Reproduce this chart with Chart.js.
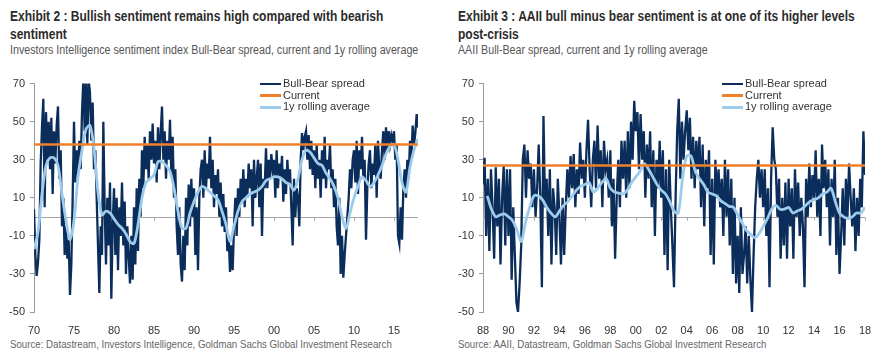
<!DOCTYPE html>
<html>
<head>
<meta charset="utf-8">
<script src="https://cdn.jsdelivr.net/npm/chart.js@4.4.1/dist/chart.umd.min.js"></script>
<style>
  body { margin: 0; background: #fff; width: 890px; height: 360px; overflow: hidden; position: relative; font-family: "Liberation Sans", Arial, sans-serif; }
  .fit { transform-origin: 0 0; }
  .t { position: absolute; top: 7px; font-weight: bold; font-size: 14.5px; line-height: 18px; color: #2b2b2b; white-space: nowrap; }
  .s { position: absolute; top: 43px; font-size: 12.5px; color: #555; white-space: nowrap; }
  .src { position: absolute; top: 338px; font-size: 10.5px; color: #666; white-space: nowrap; }
  .box { position: absolute; top: 72px; height: 265px; }
  .lg { position: absolute; top: 78px; font-size: 11px; color: #333; }
  .lg div { height: 11.5px; line-height: 11.5px; white-space: nowrap; }
  .lg i { display: inline-block; width: 21px; vertical-align: middle; margin-right: 2px; }
</style>
</head>
<body>

<div class="t fit" data-w="373" style="left:10px">Exhibit 2 : Bullish sentiment remains high compared with bearish<br>sentiment</div>
<div class="s fit" data-w="408" style="left:10px">Investors Intelligence sentiment index Bull-Bear spread, current and 1y rolling average</div>
<div class="box" style="left:0;width:440px"><canvas id="left"></canvas></div>
<div class="lg" style="left:260px">
  <div><i style="border-top:2px solid #0b2d5b"></i>Bull-Bear spread</div>
  <div><i style="border-top:3px solid #f07f2b"></i>Current</div>
  <div><i style="border-top:3px solid #9dcbeb"></i>1y rolling average</div>
</div>
<div class="src fit" data-w="382" style="left:10px">Source: Datastream, Investors Intelligence, Goldman Sachs Global Investment Research</div>

<div class="t fit" data-w="397" style="left:458px">Exhibit 3 : AAII bull minus bear sentiment is at one of its higher levels<br>post-crisis</div>
<div class="s fit" data-w="250" style="left:458px">AAII Bull-Bear spread, current and 1y rolling average</div>
<div class="box" style="left:449px;width:441px"><canvas id="right"></canvas></div>
<div class="lg" style="left:722px">
  <div><i style="border-top:2px solid #0b2d5b"></i>Bull-Bear spread</div>
  <div><i style="border-top:3px solid #f07f2b"></i>Current</div>
  <div><i style="border-top:3px solid #9dcbeb"></i>1y rolling average</div>
</div>
<div class="src fit" data-w="308" style="left:458px">Source: AAII, Datastream, Goldman Sachs Global Investment Research</div>

<script>
// Investors Intelligence bull-bear spread, 6 readings per year from 1970
const iiStart = 1970;
const iiPerYear = 6;
const iiSpread = [
  4, -20, -31, -24, -12, 28,
  47, 62, 5, 55, 30, 50,
  25, 52, 12, 45, 28, 48,
  58, 20, 35, -5, 10, -20,
  -5, -22, -12, -41, -25, 10,
  50, 18, 35, 22, 40, 25,
  55, 72, 45, 72, 38, 72,
  65, 40, 60, 25, 35, 10,
  -15, -40, -5, -20, 50, 5,
  -25, 10, -15, 18, -43, -5,
  15, -20, 10, -28, 5, -10,
  18, -15, 8, -30, -5, -20,
  -35, -10, -33, 5, -25, 15,
  -18, 20, 0, 35, 15, 42,
  25, 38, 20, 45, 30, 49,
  28, 40, 18, 47, 25, 44,
  58, 30, 45, 20, 40, 30,
  51, 22, 42, 10, 25, -5,
  -20, 5, -25, -34, -10, -28,
  10, -15, 17, -5, 20, 0,
  15, -20, 5, -28, 10, 25,
  30, 10, 35, 15, 28, 20,
  42, 15, 30, 5, 22, 12,
  25, 0, 18, -5, 12, -8,
  5, -18, -10, -29, -15, -28,
  -5, 10, -10, 15, 0, 20,
  8, 25, 5, 20, 10, 28,
  15, 25, -5, 30, 10, 20,
  30, 5, 28, -10, 20, 15,
  36, 15, 30, 20, 33, 25,
  30, 10, 35, 15, 28, 20,
  32, 8, 25, 12, 30, 18,
  25, 5, -15, 20, 0, 15,
  10, -5, 30, 44, 35, 42,
  45, 30, 43, 25, 40, 22,
  35, 15, 38, 20, 30, 10,
  35, 20, 42, 15, 30, 25,
  38, 15, 25, 5, 20, -5,
  -15, 10, -30, -10, -32, -20,
  -10, 0, 10, 25, 15, 30,
  35, 18, 40, 12, 35, 25,
  42, 20, 30, -12, 15, 28,
  35, 15, 28, 22, 38, 10,
  40, 25, 20, 35, 45, 30,
  47, 35, 45, 38, 43, 40,
  45, 30, 38, -10, -14, 5,
  -12, 15, 25, 10, 30, 20,
  40, 30, 48, 38, 44, 54,
  47
];
// 1y rolling average, 2 readings per year
const iiAvgPerYear = 2;
const iiAvg = [
  -17, -8, 12, 27, 31, 31, 27, 12, -2, -12,
  -2, 21, 35, 46, 48, 36, 13, 1, 3, 2,
  -1, -4, -6, -9, -13, -14, -4, 10, 18, 20,
  22, 29, 29, 27, 24, 15, 3, -6, -6, 2,
  8, 13, 16, 15, 13, 11, 9, 3, -4, -13,
  -5, 3, 8, 10, 12, 13, 14, 16, 19, 20,
  21, 21, 20, 18, 17, 14, 20, 30, 35, 34,
  31, 28, 27, 23, 20, 16, 10, 0, -6, 2,
  10, 16, 21, 19, 16, 18, 22, 27, 33, 37,
  38, 30, 18, 13, 26, 35, 41
];
const iiCurrent = 38;
const iiYearTicks = [1970, 1975, 1980, 1985, 1990, 1995, 2000, 2005, 2010, 2015];

// AAII bull-bear spread, 8 readings per year from 1988
const aaiiStart = 1988;
const aaiiPerYear = 8;
const aaiiSpread = [
  17, 31, -10, 20, -18, 25, 5, -22,
  26, -5, 20, -25, 10, 27, -15, 25,
  -10, 25, -33, 5, -20, -45, -50, -35,
  -15, 30, 38, 10, 35, 20, 28, 5,
  25, 0, 15, 38, 10, -37, 53, 5,
  20, -10, 25, -25, 15, 5, -20, 20,
  0, -25, 10, -20, 5, 25, 10, 32,
  15, 33, 5, 25, 12, 39, 20, 30,
  10, 35, 51, 25, 5, 30, 40, 15,
  48, 20, 35, 5, 40, 25, 30, 10,
  35, -5, 20, -22, 10, 30, 5, 40,
  20, 40, 10, 45, 15, 50, 30, 61,
  45, 55, 25, 54, 30, 45, 10, 38,
  20, 45, 5, 35, -10, 30, 15, 40,
  10, 35, -20, 25, -28, 30, 5, -15,
  -37, 10, 45, 62, 20, 50, 30, 45,
  56, 35, 52, 20, 42, 15, 40, 25,
  42, 5, 38, -5, 30, 15, 35, -20,
  20, -25, 30, 10, 25, 5, 20, -10,
  30, 0, 25, -15, 20, -30, 10, -35,
  -10, -40, 5, -30, -20, -5, -35, -10,
  -33, -50, -20, 5, 20, 30, 10, 25,
  5, 25, -10, 15, -37, 20, 47, 30,
  25, 0, 20, -22, 10, -15, 18, -22,
  20, -5, 15, -22, 25, 0, 18, -10,
  10, -5, -37, 20, 0, 28, 5, 22,
  10, 35, 0, 20, -10, 38, 15, 30,
  5, 25, -15, 20, 0, 30, -20, 10,
  -30, -10, 15, -15, 20, 0, 28, 10,
  -5, 15, -18, 10, -10, 20, 5, 45,
  22
];
// 1y rolling average, 3 readings per year from 1988 + 1/3
const aaiiAvgStart = 1988 + 1 / 3;
const aaiiAvgPerYear = 3;
const aaiiAvg = [
  11, 4,
  0, 1, 1.5, 0, -2, -7, -13, -3, 5, 11,
  11, 9, 5, 2, 0, 3, 6, 8, 11, 14,
  16, 17, 18, 13, 15, 18, 20, 15, 13, 12.5,
  12, 14, 18, 21, 24, 28, 25, 21, 17, 14,
  12, 8, 3, 2, 20, 32, 32, 24, 20, 17,
  13, 12, 11, 8.5, 7, 5.5, 5, 1, -3, -7,
  -9, -11, -9, -5, -1, 4, 6, 4, 4, 5,
  2, 3, 4, 6, 8, 9, 10, 12, 13, 15,
  8, 2, 0, -1, 0, 2, 2,
  5
];
const aaiiCurrent = 27;
const aaiiYearTicks = [1988, 1990, 1992, 1994, 1996, 1998, 2000, 2002, 2004, 2006, 2008, 2010, 2012, 2014, 2016, 2018];

const yTicks = [-50, -30, -10, 10, 30, 50, 70];

const NAVY = '#0b2d5b';
const ORANGE = '#f07f2b';
const LIGHT = '#9dcbeb';

// squeeze the text blocks to the narrow width of the original typeface
document.querySelectorAll('.fit').forEach(el => {
  const k = +el.dataset.w / el.offsetWidth;
  el.style.transform = 'scaleX(' + k.toFixed(4) + ')';
});

function toPoints(vals, start, perYear) {
  return vals.map((v, i) => ({ x: start + i / perYear, y: v }));
}

// gray zero line with small tick marks under each year label
const zeroLine = {
  id: 'zeroLine',
  beforeDatasetsDraw(chart) {
    const { ctx, chartArea, scales } = chart;
    const y = Math.round(scales.y.getPixelForValue(0)) + 0.5;
    ctx.save();
    ctx.strokeStyle = '#a6a6a6';
    ctx.lineWidth = 1;
    ctx.beginPath();
    ctx.moveTo(chartArea.left, y);
    ctx.lineTo(chartArea.right, y);
    scales.x.ticks.forEach(t => {
      const x = Math.round(scales.x.getPixelForValue(t.value)) + 0.5;
      ctx.moveTo(x, y);
      ctx.lineTo(x, y + 3);
    });
    ctx.stroke();
    ctx.restore();
  }
};

function makeChart(id, spread, start, perYear, avg, avgStart, avgPerYear, current, yearTicks, xMin, xMax, padRight) {
  new Chart(document.getElementById(id), {
    type: 'line',
    data: {
      datasets: [
        {
          label: 'Current',
          data: [{ x: xMin, y: current }, { x: xMax, y: current }],
          borderColor: ORANGE,
          borderWidth: 2.5,
          pointRadius: 0,
          order: 1
        },
        {
          label: '1y rolling average',
          data: toPoints(avg, avgStart, avgPerYear),
          borderColor: LIGHT,
          borderWidth: 2.8,
          pointRadius: 0,
          tension: 0.3,
          order: 2
        },
        {
          label: 'Bull-Bear spread',
          data: toPoints(spread, start, perYear),
          borderColor: NAVY,
          borderWidth: 2.3,
          pointRadius: 0,
          order: 3
        }
      ]
    },
    options: {
      responsive: true,
      maintainAspectRatio: false,
      animation: false,
      layout: { padding: { top: 8, right: padRight, left: 0, bottom: 0 } },
      plugins: { legend: { display: false }, tooltip: { enabled: false } },
      scales: {
        x: {
          type: 'linear',
          min: xMin,
          max: xMax,
          afterBuildTicks: s => { s.ticks = yearTicks.map(v => ({ value: v })); },
          afterFit: s => { s.height = 25; },
          grid: { display: false },
          border: { display: false },
          ticks: {
            color: '#333',
            font: { family: '"Liberation Sans", Arial, sans-serif', size: 11 },
            padding: 4,
            maxRotation: 0,
            autoSkip: false,
            callback: v => String(v).slice(-2)
          }
        },
        y: {
          min: -50,
          max: 70,
          afterBuildTicks: s => { s.ticks = yTicks.map(v => ({ value: v })); },
          afterFit: s => { s.width = 34; },
          grid: { drawOnChartArea: false, drawTicks: true, tickLength: 4, color: '#999' },
          border: { display: true, color: '#999' },
          ticks: {
            color: '#333',
            font: { family: '"Liberation Sans", Arial, sans-serif', size: 11 },
            padding: 5
          }
        }
      }
    },
    plugins: [zeroLine]
  });
}

makeChart('left', iiSpread, iiStart, iiPerYear, iiAvg, iiStart, iiAvgPerYear, iiCurrent, iiYearTicks, 1970, 2018, 22);
makeChart('right', aaiiSpread, aaiiStart, aaiiPerYear, aaiiAvg, aaiiAvgStart, aaiiAvgPerYear, aaiiCurrent, aaiiYearTicks, 1988, 2018, 25);
</script>
</body>
</html>
